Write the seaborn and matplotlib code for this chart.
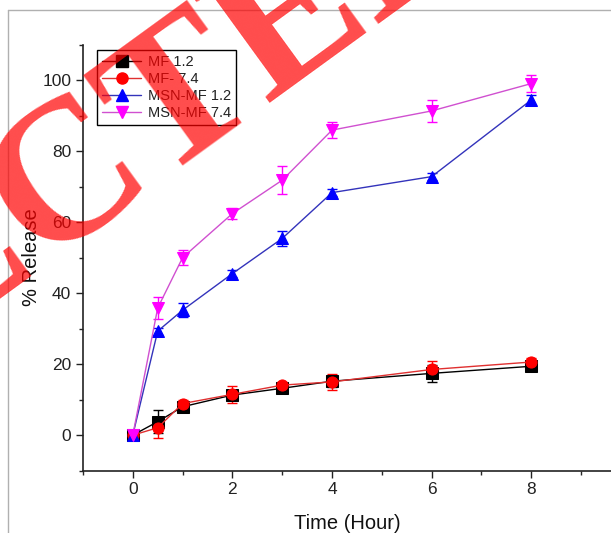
import matplotlib
matplotlib.use("Agg")
import matplotlib.pyplot as plt
from matplotlib.lines import Line2D
from matplotlib.ticker import AutoMinorLocator
import seaborn as sns
import pandas as pd
import numpy as np

# ---- data ----
time_h = [0, 0.5, 1, 2, 3, 4, 6, 8]
series_names = ["MF 1.2", "MF- 7.4", "MSN-MF 1.2", "MSN-MF 7.4"]
mf_12 = [0, 3.8, 8.0, 11.3, 13.2, 15.2, 17.4, 19.4]
mf_12_err = [0.5, 3.3, 1.0, 1.5, 1.0, 1.5, 2.5, 1.0]
mf_74 = [0, 2.1, 8.9, 11.5, 14.1, 15.0, 18.5, 20.6]
mf_74_err = [0.5, 3.0, 1.0, 2.3, 1.0, 2.2, 2.5, 1.0]
msn_12 = [0, 29.3, 35.2, 45.5, 55.4, 68.3, 72.8, 94.4]
msn_12_err = [0.5, 1.0, 2.0, 1.0, 2.0, 1.0, 1.0, 1.5]
msn_74 = [0, 35.8, 50.0, 62.4, 71.8, 85.9, 91.3, 99.0]
msn_74_err = [0.5, 3.0, 2.0, 1.5, 4.0, 2.2, 3.0, 2.5]
x_ticks = [0, 2, 4, 6, 8]
y_ticks = [0, 20, 40, 60, 80, 100]
watermark = "REJECTED"

values = [mf_12, mf_74, msn_12, msn_74]
errors = [mf_12_err, mf_74_err, msn_12_err, msn_74_err]
colors = ["#000000", "#ff0000", "#0000ff", "#ff00ff"]
line_colors = ["#000000", "#e03030", "#3333bb", "#d050d0"]
markers = ["s", "o", "^", "v"]

df = pd.DataFrame({
    "Time": np.tile(time_h, 4),
    "Release": np.concatenate(values),
    "Series": np.repeat(series_names, len(time_h)),
})

sns.set_theme(style="ticks")
plt.rcParams["font.family"] = ["Liberation Sans", "DejaVu Sans"]

fig = plt.figure(figsize=(6.11, 5.33), dpi=100)
ax = fig.add_axes([0.1358, 0.1169, 0.8642, 0.7996])

for name, v, e, c, lc, m in zip(series_names, values, errors, colors, line_colors, markers):
    sub = df[df["Series"] == name]
    ax.errorbar(sub["Time"], sub["Release"], yerr=e, fmt="none", ecolor=c,
                elinewidth=1, capsize=3.5, capthick=1, zorder=2)
    sns.lineplot(data=sub, x="Time", y="Release", ax=ax, color=lc, lw=1,
                 marker=m, markersize=8, markerfacecolor=c, markeredgecolor=c,
                 label=name, zorder=3, legend=False)

handles = [Line2D([0], [0], color=lc, lw=1, marker=m, markersize=8,
                  markerfacecolor=c, markeredgecolor=c)
           for c, lc, m in zip(colors, line_colors, markers)]
leg = ax.legend(handles, series_names, loc="upper left",
                bbox_to_anchor=(0.0265, 0.987), borderaxespad=0,
                fontsize=10.5, handlelength=2.7, handletextpad=0.45,
                labelspacing=0.2, borderpad=0.35, frameon=True,
                fancybox=False, framealpha=1, edgecolor="black")
leg.get_frame().set_linewidth(1)
for t in leg.get_texts():
    t.set_color("#222222")

ax.set_xlim(-1, 9.6)
ax.set_ylim(-10, 110)
ax.set_xticks(x_ticks)
ax.set_yticks(y_ticks)
ax.xaxis.set_minor_locator(AutoMinorLocator(2))
ax.yaxis.set_minor_locator(AutoMinorLocator(2))
ax.tick_params(which="major", length=5, width=1, labelsize=12.5,
               colors="#222222", direction="out")
ax.tick_params(which="minor", length=3, width=1, direction="out")
for s in ["top", "right"]:
    ax.spines[s].set_visible(False)
for s in ["left", "bottom"]:
    ax.spines[s].set_color("#222222")
    ax.spines[s].set_linewidth(1.2)
ax.set_xlabel("Time (Hour)", fontsize=14.5, color="#111111", labelpad=12)
ax.set_ylabel("% Release", fontsize=14.5, color="#111111", labelpad=0.5)
ax.set_facecolor("white")

# outer screenshot frame
fig.add_artist(Line2D([8 / 611, 1], [1 - 10 / 533, 1 - 10 / 533],
                      transform=fig.transFigure, color="#b0b0b0", lw=1))
fig.add_artist(Line2D([8 / 611, 8 / 611], [0, 1 - 10 / 533],
                      transform=fig.transFigure, color="#b0b0b0", lw=1))

# watermark
fig.text(30 / 611, 1 - 214 / 533, watermark, fontsize=145, fontweight="bold",
         family=["Liberation Serif", "DejaVu Serif"], color="red", alpha=0.7,
         rotation=36, ha="center", va="center", rotation_mode="anchor",
         zorder=10)

fig.savefig("out.png", dpi=100)
